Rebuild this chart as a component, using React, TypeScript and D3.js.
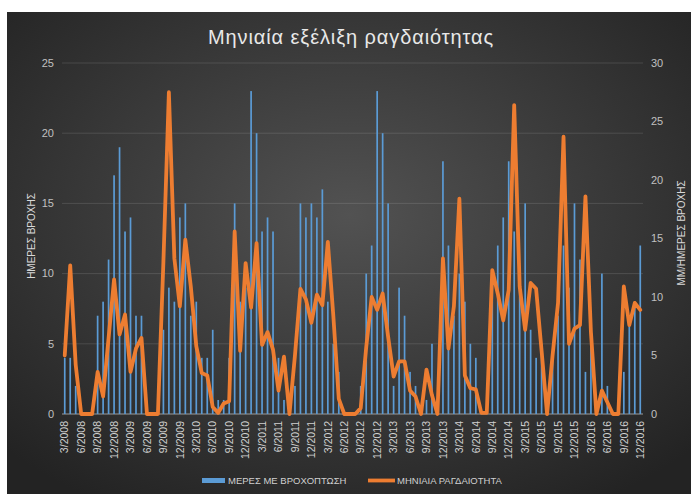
import React from "react";
import * as d3 from "d3";

// Monthly categories: 3/2008 .. 12/2016
const startYear = 2008;
const startMonth = 3;
const monthCount = 106;
const months: string[] = Array.from({ length: monthCount }, (_, k) => {
  const m0 = startMonth - 1 + k;
  return `${(m0 % 12) + 1}/${startYear + Math.floor(m0 / 12)}`;
});

// Days with rainfall (left axis)
const rainDays: number[] = [
  4, 4, 2, 0, 0, 0, 7, 8, 11, 17,
  19, 13, 14, 7, 7, 0, 0, 0, 6, 9,
  8, 14, 15, 7, 8, 4, 4, 6, 1, 1,
  4, 15, 8, 9, 23, 20, 13, 14, 13, 4,
  1, 0, 2, 15, 14, 15, 14, 16, 8, 5,
  3, 0, 0, 0, 2, 10, 12, 23, 20, 15,
  2, 9, 7, 3, 2, 0, 1, 5, 0, 18,
  12, 7, 10, 8, 5, 4, 0, 0, 10, 12,
  14, 18, 13, 9, 15, 6, 4, 5, 0, 4,
  7, 12, 9, 15, 11, 3, 5, 0, 10, 2,
  0, 0, 3, 7, 8, 12,
];

// Monthly intensity, mm per rain day (right axis)
const intensity: number[] = [
  5.0, 12.7, 4.2, 0, 0, 0, 3.6, 1.5, 6.5, 11.5,
  6.8, 8.5, 3.6, 5.6, 6.5, 0, 0, 0, 13, 27.5,
  13.3, 9.2, 14.9, 10.9, 5.8, 3.5, 3.3, 0.6, 0.1, 0.9,
  1.1, 15.6, 5.4, 12.9, 9.1, 14.6, 5.9, 7.0, 5.5, 2.0,
  4.9, 0, 5.0, 10.7, 9.8, 7.8, 10.2, 9.3, 14.7, 8.4,
  1.3, 0, 0, 0, 0.5, 5.7, 10.0, 8.9, 10.3, 6.6,
  3.2, 4.5, 4.5, 2.0, 1.5, 0, 3.8, 1.6, 0, 13.3,
  5.6, 9.2, 18.4, 3.3, 2.2, 2.1, 0.1, 0.1, 12.3, 10.3,
  8.0, 10.6, 26.4, 10.9, 7.2, 11.2, 10.7, 5.4, 0, 5,
  9.5, 23.7, 6.0, 7.3, 7.6, 18.6, 7, 0, 2.0, 1.0,
  0, 0, 10.9, 7.6, 9.5, 8.9,
];

const leftTicks = [0, 5, 10, 15, 20, 25];
const rightTicks = [0, 5, 10, 15, 20, 25, 30];
const tickLabels = months.filter((_, i) => i % 3 === 0);

const title = "Μηνιαία εξέλιξη ραγδαιότητας";
const leftTitle = "ΗΜΕΡΕΣ ΒΡΟΧΗΣ";
const rightTitle = "ΜΜ/ΗΜΕΡΕΣ ΒΡΟΧΗΣ";
const barName = "ΜΕΡΕΣ ΜΕ ΒΡΟΧΟΠΤΩΣΗ";
const lineName = "ΜΗΝΙΑΙΑ ΡΑΓΔΑΙΟΤΗΤΑ";

const W = 691;
const H = 494;
const plot = { left: 62, right: 643, top: 63, bottom: 414 };
const FONT = "'Liberation Sans', Arial, sans-serif";

export default function App() {
  const x = d3.scaleBand<string>().domain(months).range([plot.left, plot.right]).padding(0);
  const yL = d3.scaleLinear().domain([0, 25]).range([plot.bottom, plot.top]);
  const yR = d3.scaleLinear().domain([0, 30]).range([plot.bottom, plot.top]);
  const cx = (m: string) => (x(m) as number) + x.bandwidth() / 2;
  const barW = 1.7;

  const line = d3
    .line<number>()
    .x((_, i) => cx(months[i]))
    .y((d) => yR(d));

  return (
    <div style={{ position: "absolute", left: 0, top: 0 }}>
      <svg width={W} height={H} style={{ display: "block" }}>
        <defs>
          <radialGradient id="bg" cx="50%" cy="42%" r="70%">
            <stop offset="0%" stopColor="#525252" />
            <stop offset="100%" stopColor="#232323" />
          </radialGradient>
        </defs>
        <rect x={0} y={0} width={W} height={H} fill="#ffffff" />
        <rect x={7} y={12} width={W - 7} height={H - 12} fill="url(#bg)" />

        <text
          x={351}
          y={44}
          textAnchor="middle"
          fill="#e8e8e8"
          fontFamily={FONT}
          fontSize={20}
          letterSpacing={0.9}
        >
          {title}
        </text>

        {leftTicks.map((t) => (
          <line
            key={"g" + t}
            x1={plot.left}
            x2={plot.right}
            y1={yL(t)}
            y2={yL(t)}
            stroke={t === 0 ? "#9a9a9a" : "#ffffff"}
            strokeOpacity={t === 0 ? 1 : 0.12}
            strokeWidth={1}
          />
        ))}

        {leftTicks.map((t) => (
          <text
            key={"l" + t}
            x={54}
            y={yL(t)}
            dy="0.35em"
            textAnchor="end"
            fill="#c0c0c0"
            fontFamily={FONT}
            fontSize={11}
          >
            {t}
          </text>
        ))}
        {rightTicks.map((t) => (
          <text
            key={"r" + t}
            x={651}
            y={yR(t)}
            dy="0.35em"
            textAnchor="start"
            fill="#c0c0c0"
            fontFamily={FONT}
            fontSize={11}
          >
            {t}
          </text>
        ))}

        <text
          transform={`translate(31,236) rotate(-90)`}
          textAnchor="middle"
          dy="0.35em"
          fill="#d8d8d8"
          fontFamily={FONT}
          fontSize={10}
        >
          {leftTitle}
        </text>
        <text
          transform={`translate(681,233) rotate(-90)`}
          textAnchor="middle"
          dy="0.35em"
          fill="#d8d8d8"
          fontFamily={FONT}
          fontSize={10}
        >
          {rightTitle}
        </text>

        {rainDays.map((v, i) => (
          <rect
            key={"b" + i}
            x={cx(months[i]) - barW / 2}
            y={yL(v)}
            width={barW}
            height={plot.bottom - yL(v)}
            fill="#5b9bd5"
          />
        ))}

        <path
          d={line(intensity) || ""}
          fill="none"
          stroke="#ed7d31"
          strokeWidth={3.8}
          strokeLinejoin="round"
          strokeLinecap="round"
        />

        {tickLabels.map((m) => (
          <text
            key={"x" + m}
            transform={`translate(${cx(m)},${plot.bottom + 7}) rotate(-90)`}
            textAnchor="end"
            dy="0.35em"
            fill="#d0d0d0"
            fontFamily={FONT}
            fontSize={10.5}
          >
            {m}
          </text>
        ))}

        <rect x={202} y={478} width={23} height={5} fill="#5b9bd5" />
        <text x={228} y={480.5} dy="0.35em" fill="#d0d0d0" fontFamily={FONT} fontSize={9.5}>
          {barName}
        </text>
        <line x1={368} x2={395} y1={480.5} y2={480.5} stroke="#ed7d31" strokeWidth={3.8} />
        <text x={397} y={480.5} dy="0.35em" fill="#d0d0d0" fontFamily={FONT} fontSize={9.5}>
          {lineName}
        </text>
      </svg>
    </div>
  );
}
